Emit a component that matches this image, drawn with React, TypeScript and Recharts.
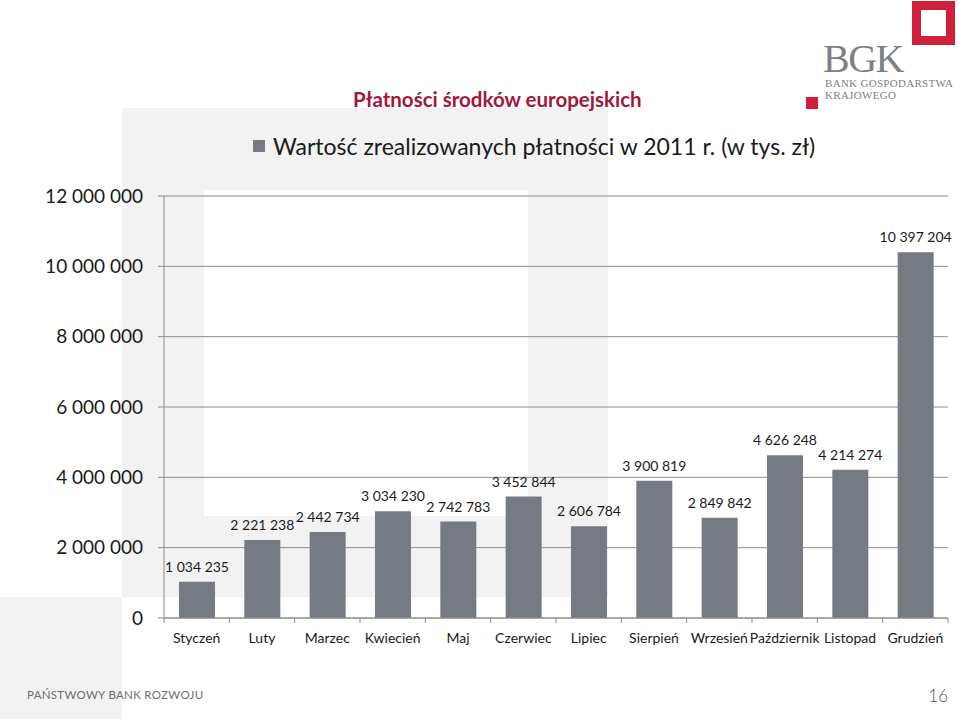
import { BarChart, Bar, XAxis, YAxis, CartesianGrid, LabelList } from "recharts";

const months = ["Styczeń", "Luty", "Marzec", "Kwiecień", "Maj", "Czerwiec", "Lipiec", "Sierpień", "Wrzesień", "Październik", "Listopad", "Grudzień"];
const payments = [1034235, 2221238, 2442734, 3034230, 2742783, 3452844, 2606784, 3900819, 2849842, 4626248, 4214274, 10397204];
const yTicks = [0, 2000000, 4000000, 6000000, 8000000, 10000000, 12000000];
const seriesName = "Wartość zrealizowanych płatności w 2011 r. (w tys. zł)";

const data = months.map((m, i) => ({ month: m, value: payments[i] }));

const FONT = "Lato, 'Open Sans', sans-serif";
const BAR = "#767b83";
const GRID = "#8c8c8c";
const W = 959;
const H = 719;
const M = { top: 196, right: 11, bottom: 0, left: 0 };
const Y_W = 164;
const X_H = 101;
const PLOT_W = W - M.left - M.right - Y_W;

// polish style thousands: "1 034 235"
const fmt = (v: number) => String(v).replace(/\B(?=(\d{3})+(?!\d))/g, " ");

const MonthTick = (props: any) => {
  const { x, y, payload, index } = props;
  const band = PLOT_W / months.length;
  return (
    <g>
      <line x1={x - band / 2} x2={x - band / 2} y1={y} y2={y + 5} stroke={GRID} />
      {index === months.length - 1 && (
        <line x1={x + band / 2} x2={x + band / 2} y1={y} y2={y + 5} stroke={GRID} />
      )}
      <text x={x} y={y + 25} textAnchor="middle" fill="#1a1a1a" fontSize={14} fontFamily={FONT}>
        {payload.value}
      </text>
    </g>
  );
};

// value label above each bar, kept on one line
const ValueLabel = (props: any) => {
  const { x, y, width, value } = props;
  return (
    <text x={x + width / 2} y={y - 10} textAnchor="middle" fill="#1a1a1a" fontSize={14} fontFamily={FONT}>
      {fmt(Number(value))}
    </text>
  );
};

export default function App() {
  return (
    <div style={{ position: "absolute", left: 0, top: 0, width: W, height: H, background: "#fff", overflow: "hidden", fontFamily: FONT }}>
      {/* background blocks of the slide */}
      <div style={{ position: "absolute", left: 122, top: 108, width: 486, height: 489, background: "#f2f2f2" }} />
      <div style={{ position: "absolute", left: 204, top: 190, width: 324, height: 326, background: "#fff" }} />
      <div style={{ position: "absolute", left: 0, top: 597, width: 122, height: 122, background: "#f2f2f2" }} />

      {/* title */}
      <div style={{ position: "absolute", left: 353, top: 87, fontSize: 20.5, fontWeight: 700, color: "#a3173d", whiteSpace: "nowrap" }}>
        Płatności środków europejskich
      </div>

      {/* logo */}
      <div style={{ position: "absolute", left: 912, top: 1, width: 43, height: 44, boxSizing: "border-box", border: "9px solid #cf1f3a" }} />
      <div style={{ position: "absolute", left: 823, top: 41, fontFamily: "'Liberation Serif', serif", fontSize: 40, color: "#7d7f82", letterSpacing: -1.5, lineHeight: "36px" }}>
        BGK
      </div>
      <div style={{ position: "absolute", left: 825, top: 78, fontFamily: "'Liberation Serif', serif", fontSize: 11, color: "#7d7f82", lineHeight: "11.5px", letterSpacing: 0.3, whiteSpace: "nowrap" }}>
        BANK GOSPODARSTWA
        <br />
        KRAJOWEGO
      </div>
      <div style={{ position: "absolute", left: 806, top: 97, width: 12, height: 12, background: "#cf1f3a" }} />

      {/* legend */}
      <div style={{ position: "absolute", left: 253, top: 132, display: "flex", alignItems: "center", fontSize: 23, color: "#1a1a1a", whiteSpace: "nowrap" }}>
        <span style={{ display: "inline-block", width: 12, height: 12, background: BAR, marginRight: 8 }} />
        <span>{seriesName}</span>
      </div>

      <div style={{ position: "absolute", left: 0, top: 0 }}>
        <BarChart width={W} height={H} data={data} margin={M}>
          <CartesianGrid horizontal vertical={false} stroke={GRID} />
          <XAxis
            dataKey="month"
            height={X_H}
            interval={0}
            tickLine={false}
            tickSize={0}
            tickMargin={0}
            axisLine={{ stroke: GRID }}
            tick={<MonthTick />}
          />
          <YAxis
            width={Y_W}
            domain={[0, 12000000]}
            ticks={yTicks}
            interval={0}
            tickSize={6}
            tickMargin={15}
            axisLine={{ stroke: GRID }}
            tickLine={{ stroke: GRID }}
            tick={{ fill: "#1a1a1a", fontSize: 19, fontFamily: FONT }}
            tickFormatter={fmt}
          />
          <Bar dataKey="value" name={seriesName} fill={BAR} barSize={36} isAnimationActive={false}>
            <LabelList dataKey="value" content={<ValueLabel />} />
          </Bar>
        </BarChart>
      </div>

      {/* footer */}
      <div style={{ position: "absolute", left: 27, top: 688, fontSize: 11.5, letterSpacing: 0.3, color: "#6e6e6e", whiteSpace: "nowrap" }}>
        PAŃSTWOWY BANK ROZWOJU
      </div>
      <div style={{ position: "absolute", right: 11, top: 685, fontSize: 17, fontWeight: 300, color: "#555" }}>16</div>
    </div>
  );
}
